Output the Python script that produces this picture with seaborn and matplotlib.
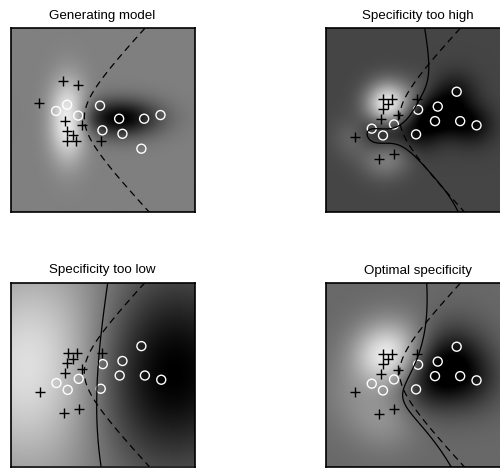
import numpy as np
import pandas as pd
import matplotlib
matplotlib.use("Agg")
import matplotlib.pyplot as plt
import seaborn as sns

sns.set_theme(style="white")
plt.rcParams['font.family'] = ['Liberation Sans', 'DejaVu Sans']

# ---- data (coordinates in a 0..10 box, y pointing down) ----
# sample drawn from the generating model (top-left panel)
gen_plus_x = [2.87, 3.65, 1.56, 2.98, 3.88, 3.09, 3.38, 3.09, 3.56, 4.92]
gen_plus_y = [2.87, 3.10, 4.05, 5.03, 5.28, 5.57, 5.81, 6.12, 6.12, 6.15]
gen_circ_x = [3.07, 2.47, 3.67, 4.86, 5.90, 7.26, 8.15, 4.99, 6.08, 7.11]
gen_circ_y = [4.16, 4.50, 4.75, 4.21, 4.92, 4.92, 4.72, 5.55, 5.74, 6.55]

# training sample used by the three fitted models
plus_x = [3.12, 3.58, 3.39, 3.09, 4.97, 3.90, 2.98, 1.58, 2.89, 3.70]
plus_y = [3.85, 3.85, 4.14, 4.39, 3.85, 4.70, 4.94, 5.93, 7.11, 6.86]
circ_x = [7.11, 5.01, 6.08, 3.70, 5.93, 7.30, 8.19, 2.49, 3.10, 4.90]
circ_y = [3.45, 4.43, 4.26, 5.23, 5.05, 5.05, 5.28, 5.46, 5.83, 5.77]

# generating model: two anisotropic Gaussian bumps
gen_cx = [3.10, 5.95]
gen_cy = [5.00, 4.90]
gen_sx = [0.70, 1.50]
gen_sy = [1.50, 0.72]
gen_amp = [1.0, -1.0]

titles = ["Generating model", "Specificity too high",
          "Specificity too low", "Optimal specificity"]
kernel_width = [None, 0.80, 3.8, 1.3]
# grey-scale: black at lo_frac * field minimum, zero level drawn at grey level bg_level
lo_frac = [1.0, 0.72, 1.0, 0.85]
bg_level = [0.5, 0.27, 0.46, 0.41]

# ---- grid ----
n = 300
g = np.linspace(0, 10, n)
X, Y = np.meshgrid(g, g)


def gen_field(X, Y):
    f = np.zeros_like(X)
    for cx, cy, sx, sy, a in zip(gen_cx, gen_cy, gen_sx, gen_sy, gen_amp):
        f += a * np.exp(-((X - cx) ** 2 / (2 * sx ** 2) + (Y - cy) ** 2 / (2 * sy ** 2)))
    return f


def fit_field(X, Y, s):
    f = np.zeros_like(X)
    for px, py in zip(plus_x, plus_y):
        f += np.exp(-((X - px) ** 2 + (Y - py) ** 2) / (2 * s ** 2))
    for cx, cy in zip(circ_x, circ_y):
        f -= np.exp(-((X - cx) ** 2 + (Y - cy) ** 2) / (2 * s ** 2))
    return f


F_gen = gen_field(X, Y)
# decision boundary of the generating model (right-hand branch only)
F_gen_bnd = np.where(X < gen_cx[0], np.abs(F_gen) + 1e-9, F_gen)

fig = plt.figure(figsize=(5.0, 4.68), dpi=100)
W, H = 500.0, 468.0
boxes = [(10.7, 28.3), (326.0, 28.3), (10.7, 282.7), (326.0, 283.3)]
size = 183.8

for k, (title, (lx, ty)) in enumerate(zip(titles, boxes)):
    ax = fig.add_axes([lx / W, 1 - (ty + size) / H, size / W, size / H])
    if k == 0:
        F = F_gen
        px_, py_, cx_, cy_ = gen_plus_x, gen_plus_y, gen_circ_x, gen_circ_y
    else:
        F = fit_field(X, Y, kernel_width[k])
        px_, py_, cx_, cy_ = plus_x, plus_y, circ_x, circ_y
    vmin = F.min() * lo_frac[k]
    t = bg_level[k]
    vmax = -vmin * (1 - t) / t
    ax.imshow(F, cmap="gray", vmin=vmin, vmax=vmax, extent=(0, 10, 10, 0),
              origin="upper", interpolation="bilinear", aspect="auto")
    ax.contour(X, Y, F_gen_bnd, levels=[0], colors="black", linewidths=0.9,
               linestyles=[(0, (5.5, 3.8))])
    if k > 0:
        ax.contour(X, Y, F, levels=[0], colors="black", linewidths=0.9,
                   linestyles="-")
    pts_p = pd.DataFrame({"x": px_, "y": py_})
    pts_c = pd.DataFrame({"x": cx_, "y": cy_})
    sns.scatterplot(data=pts_p, x="x", y="y", ax=ax, marker="+", s=62,
                    color="black", linewidth=1.0, legend=False)
    sns.scatterplot(data=pts_c, x="x", y="y", ax=ax, marker="o", s=42,
                    facecolor="none", edgecolor="white", linewidth=1.0,
                    legend=False)
    ax.set_xlim(0, 10)
    ax.set_ylim(10, 0)
    ax.set_xticks([])
    ax.set_yticks([])
    ax.set_xlabel("")
    ax.set_ylabel("")
    for sp in ax.spines.values():
        sp.set_visible(True)
        sp.set_color("black")
        sp.set_linewidth(1.2)
    ax.set_title(title, fontsize=9.6, pad=7, color="black")

fig.savefig("out.png", dpi=100)
